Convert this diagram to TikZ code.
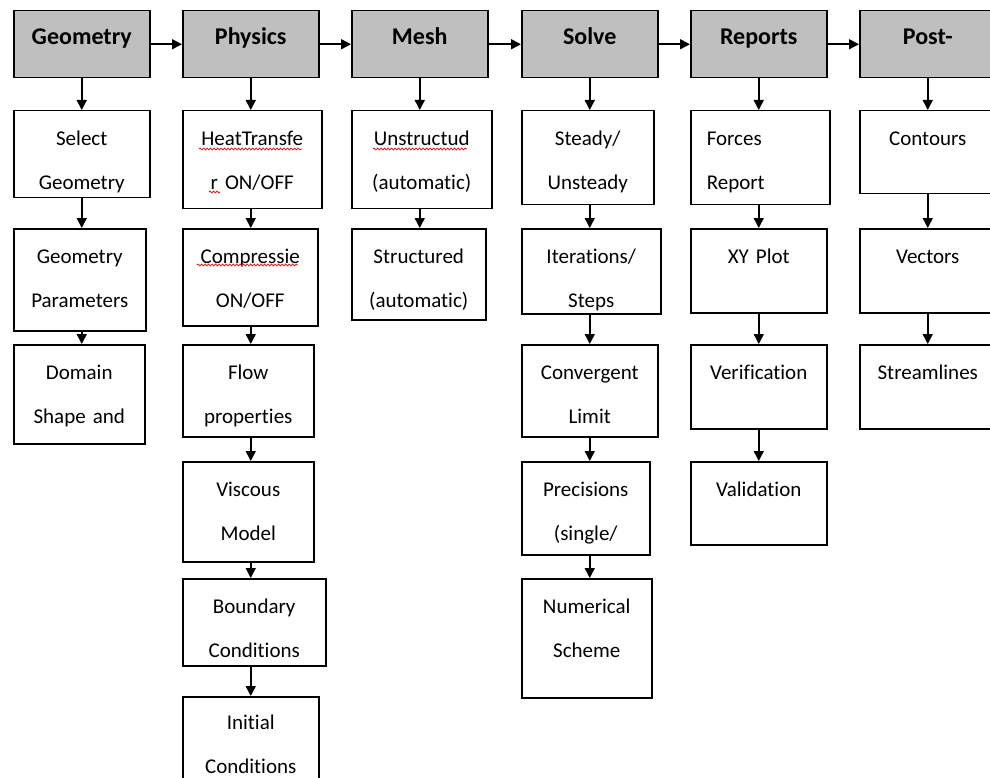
\documentclass[tikz,border=0pt]{standalone}
\usepackage{fontspec}
\setmainfont[Ligatures={NoCommon,NoContextual}]{Carlito}
\usetikzlibrary{arrows.meta,decorations.pathmorphing}

\definecolor{headgray}{RGB}{191,191,191}
\definecolor{spellred}{RGB}{215,35,35}

\tikzset{
  head/.style={draw, line width=1.5pt, fill=headgray, anchor=north west, inner sep=0pt,
    text width=136pt, align=center, text height=34pt, text depth=33pt,
    font=\fontsize{24}{29}\selectfont\bfseries},
  cell/.style={draw, line width=1.5pt, anchor=north west, inner sep=0pt, align=center,
    text height=35pt, font=\fontsize{21}{44}\selectfont},
  arr/.style={line width=1.5pt, -{Triangle[length=10pt,width=10pt]}},
  squig/.style={spellred, line width=0.9pt, decorate,
    decoration={snake, amplitude=0.9pt, segment length=3.5pt}}
}

\begin{document}
\begin{tikzpicture}[x=1pt, y=-1pt]
    \useasboundingbox (0,0) rectangle (990,778);
    \clip (0,0) rectangle (990,778);

    % Header row
    \node[head] (hgeo)   at (13,10)  {Geometry};
    \node[head] (hphy)   at (182,10) {Physics};
    \node[head] (hmesh)  at (351,10) {Mesh};
    \node[head] (hsolve) at (521,10) {Solve};
    \node[head] (hrep)   at (690,10) {Reports};
    \node[head] (hpost)  at (859,10) {Post-};

    % Geometry
    \node[cell, text width=136pt, text depth=52pt] (gsel) at (13,110) {Select\\Geometry};
    \node[cell, text width=132pt, text depth=67pt] (gpar) at (13,228) {Geometry\\Parameters};
    \node[cell, text width=131pt, text depth=64pt] (gdom) at (13,344) {Domain\\Shape and};

    % Physics
    \node[cell, text width=139pt, text depth=63pt] (phea) at (182,110) {HeatTransfe\\r ON/OFF};
    \node[cell, text width=135pt, text depth=62pt] (pcom) at (182,228) {Compressie\\ON/OFF};
    \node[cell, text width=131pt, text depth=57pt] (pflo) at (182,344) {Flow\\properties};
    \node[cell, text width=131pt, text depth=65pt] (pvis) at (182,461) {Viscous\\Model};
    \node[cell, text width=143pt, text depth=52pt] (pbou) at (182,578) {Boundary\\Conditions};
    \node[cell, text width=136pt, text height=33pt, text depth=77pt] (pini) at (182,696) {Initial\\Conditions};

    % Mesh
    \node[cell, text width=140pt, text depth=63pt] (muns) at (351,110) {Unstructud\\(automatic)};
    \node[cell, text width=134pt, text depth=56pt] (mstr) at (351,228) {Structured\\(automatic)};

    % Solve
    \node[cell, text width=132pt, text depth=59pt] (ssta) at (521,110) {Steady/\\Unsteady};
    \node[cell, text width=139pt, text depth=50pt] (site) at (521,228) {Iterations/\\Steps};
    \node[cell, text width=136pt, text depth=57pt] (scon) at (521,344) {Convergent\\Limit};
    \node[cell, text width=128pt, text depth=58pt] (spre) at (521,461) {Precisions\\(single/};
    \node[cell, text width=130pt, text depth=84pt] (snum) at (521,578) {Numerical\\Scheme};

    % Reports
    \node[cell, align=left, inner xsep=16pt, text width=107pt, text depth=59pt] (rfor) at (690,110) {Forces\\Report};
    \node[cell, text width=136pt, text depth=49pt] (rxy)  at (690,228) {XY Plot};
    \node[cell, text width=136pt, text depth=49pt] (rver) at (690,344) {Verification};
    \node[cell, text width=136pt, text depth=48pt] (rval) at (690,461) {Validation};

    % Post-
    \node[cell, text width=136pt, text depth=48pt] (ocon) at (859,110) {Contours};
    \node[cell, text width=136pt, text depth=49pt] (ovec) at (859,228) {Vectors};
    \node[cell, text width=136pt, text depth=49pt] (ostr) at (859,344) {Streamlines};

    % Arrows along the header row
    \foreach \a/\b in {hgeo/hphy, hphy/hmesh, hmesh/hsolve, hsolve/hrep, hrep/hpost}
        \draw[arr] (\a) -- (\b);

    % Arrows down each column
    \foreach \c/\a/\b in {hgeo/hgeo/gsel, hgeo/gsel/gpar, hgeo/gpar/gdom,
        hphy/hphy/phea, hphy/phea/pcom, hphy/pcom/pflo, hphy/pflo/pvis, hphy/pvis/pbou, hphy/pbou/pini,
        hmesh/hmesh/muns, hmesh/muns/mstr,
        hsolve/hsolve/ssta, hsolve/ssta/site, hsolve/site/scon, hsolve/scon/spre, hsolve/spre/snum,
        hrep/hrep/rfor, hrep/rfor/rxy, hrep/rxy/rver, hrep/rver/rval,
        hpost/hpost/ocon, hpost/ocon/ovec, hpost/ovec/ostr}
        \draw[arr] (\c.south |- \a.south) -- (\c.south |- \b.north);

    % Spelling marks
    \draw[squig] (199,149) -- (302,149);
    \draw[squig] (209,192) -- (220,192);
    \draw[squig] (373,149) -- (467,149);
    \draw[squig] (197,265) -- (298,265);
\end{tikzpicture}
\end{document}
